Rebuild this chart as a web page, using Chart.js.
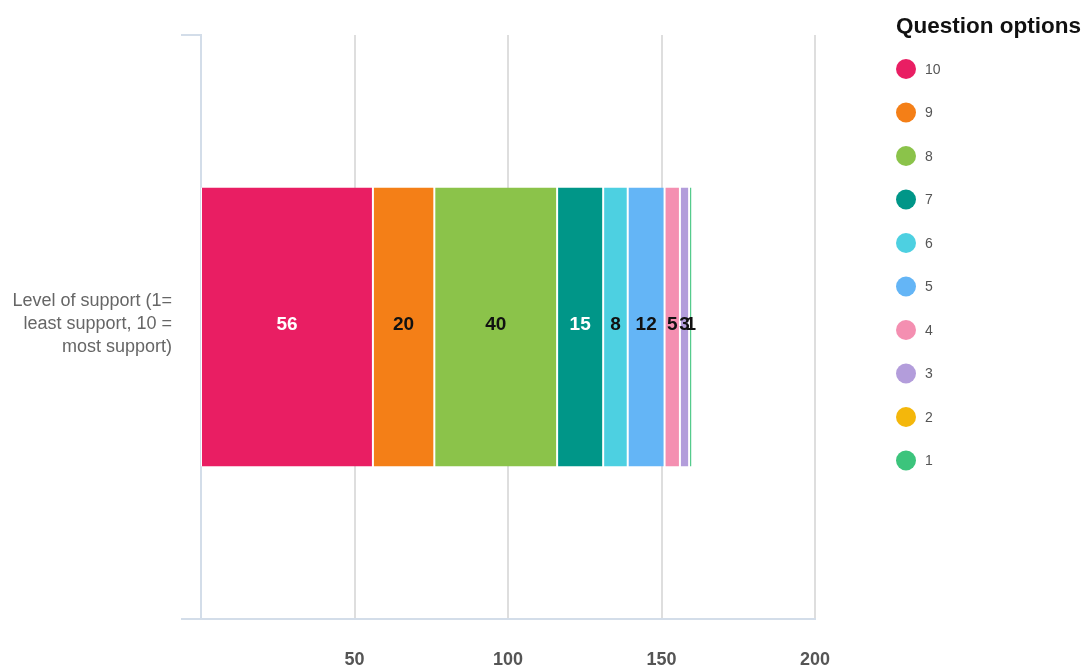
<!DOCTYPE html>
<html>
<head>
<meta charset="utf-8">
<script src="https://cdn.jsdelivr.net/npm/chart.js@4/dist/chart.umd.min.js"></script>
<style>
  html, body { margin: 0; padding: 0; background: #fff; }
  #wrap { width: 1088px; height: 668px; position: relative; }
</style>
</head>
<body>
<div id="wrap"><canvas id="c" width="1088" height="668"></canvas></div>
<script>
// Single survey question, responses stacked by option
const categories = [['Level of support (1=', 'least support, 10 =', 'most support)']];
const optionNames = ['10', '9', '8', '7', '6', '5', '4', '3', '2', '1'];
const counts = [56, 20, 40, 15, 8, 12, 5, 3, 0, 1];
const optionColors = ['#e91e63', '#f47f17', '#8bc34a', '#009688', '#4dd0e1',
                      '#64b5f6', '#f48fb1', '#b39ddb', '#f4b70b', '#3cc47c'];
const valueTextColors = ['#ffffff', '#111111', '#111111', '#ffffff', '#111111',
                         '#111111', '#111111', '#111111', '#111111', '#111111'];
const xTickValues = [50, 100, 150, 200];
const legendTitle = 'Question options';

const FONT = '"Liberation Sans", Arial, Helvetica, sans-serif';
const AXIS_BLUE = '#d3dde9';

const datasets = optionNames.map((name, i) => ({
  label: name,
  data: [counts[i]],
  backgroundColor: optionColors[i],
  borderColor: '#ffffff',
  borderWidth: { left: 1, right: 1, top: 0, bottom: 0 },
  borderSkipped: false,
  categoryPercentage: 1,
  barPercentage: 0.478
}));

// Segment values written in the middle of each stacked piece
const valueLabels = {
  id: 'valueLabels',
  afterDatasetsDraw(chart) {
    const ctx = chart.ctx;
    ctx.save();
    ctx.font = 'bold 19px ' + FONT;
    ctx.textAlign = 'center';
    ctx.textBaseline = 'middle';
    chart.data.datasets.forEach((ds, i) => {
      const v = ds.data[0];
      if (!v) return;
      const el = chart.getDatasetMeta(i).data[0];
      ctx.fillStyle = valueTextColors[i];
      ctx.fillText(String(v), (el.x + el.base) / 2, el.y - 2);
    });
    ctx.restore();
  }
};

// Vertical legend with circular swatches on the right side
const sideLegend = {
  id: 'sideLegend',
  afterDraw(chart) {
    const ctx = chart.ctx;
    ctx.save();
    ctx.textBaseline = 'middle';
    ctx.textAlign = 'left';
    ctx.fillStyle = '#111';
    ctx.font = 'bold 22.5px ' + FONT;
    ctx.fillText(legendTitle, 896, 27);
    ctx.font = '14px ' + FONT;
    chart.data.datasets.forEach((ds, i) => {
      const y = 69 + i * 43.5;
      ctx.beginPath();
      ctx.arc(906, y, 10, 0, Math.PI * 2);
      ctx.fillStyle = ds.backgroundColor;
      ctx.fill();
      ctx.fillStyle = '#555';
      ctx.fillText(ds.label, 925, y + 1);
    });
    ctx.restore();
  }
};

new Chart(document.getElementById('c'), {
  type: 'bar',
  data: { labels: categories, datasets },
  options: {
    indexAxis: 'y',
    responsive: false,
    animation: false,
    layout: { padding: { top: 35, right: 273, bottom: 0, left: 0 } },
    plugins: { legend: { display: false }, tooltip: { enabled: false } },
    scales: {
      x: {
        stacked: true,
        min: 0,
        max: 200,
        afterBuildTicks(scale) { scale.ticks = xTickValues.map(v => ({ value: v })); },
        afterFit(scale) { scale.height = 49; },
        grid: { color: '#dedede', lineWidth: 2, drawTicks: false },
        border: { display: true, color: AXIS_BLUE, width: 2 },
        ticks: {
          padding: 30,
          color: '#555',
          font: { family: FONT, size: 18, weight: 'bold' }
        }
      },
      y: {
        stacked: true,
        afterFit(scale) {
          scale.width = 201;
          scale.paddingTop = 0;
          scale.paddingBottom = 0;
        },
        grid: { offset: true, drawOnChartArea: false, tickLength: 20, color: AXIS_BLUE, lineWidth: 2 },
        border: { display: true, color: AXIS_BLUE, width: 2 },
        ticks: {
          padding: 9,
          labelOffset: -3,
          color: '#666',
          font: { family: FONT, size: 18, lineHeight: 1.28 }
        }
      }
    }
  },
  plugins: [valueLabels, sideLegend]
});
</script>
</body>
</html>
